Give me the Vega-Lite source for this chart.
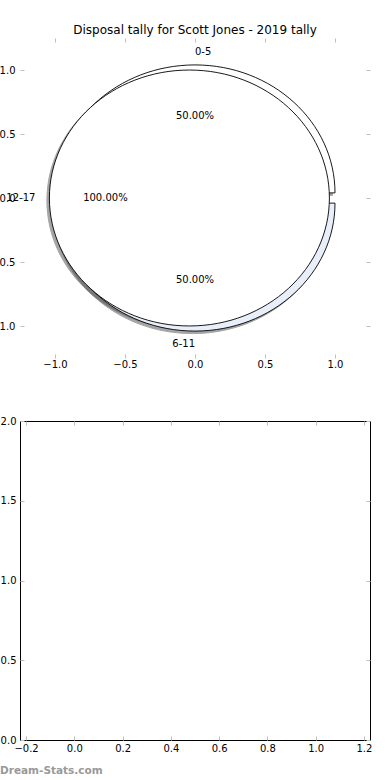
{
  "$schema": "https://vega.github.io/schema/vega-lite/v6.json",
  "padding": {"left": -10, "top": 23, "right": 0, "bottom": 0},
  "background": "white",
  "bounds": "flush",
  "spacing": 63,
  "config": {
    "view": {"stroke": null},
    "axis": {"labelFont": "DejaVu Sans", "labelFontSize": 10, "labelColor": "black", "tickColor": "#bfbfbf", "tickSize": -4, "tickWidth": 1, "domain": false, "grid": false, "labelFlush": false, "labelOverlap": false},
    "text": {"font": "DejaVu Sans", "fontSize": 10, "color": "black"}
  },
  "vconcat": [
    {
      "width": 350,
      "height": 320,
      "title": {"text": "Disposal tally for Scott Jones - 2019 tally", "font": "DejaVu Sans", "fontSize": 12, "fontWeight": "normal", "color": "black", "offset": 1, "anchor": "middle"},
      "data": {"values": [
        {"label": "0-5", "pct": "50.00%", "cx": 0, "cy": 0.04, "lx": 0, "ly": 1.14, "px": 0, "py": 0.64},
        {"label": "6-11", "pct": "50.00%", "cx": 0, "cy": -0.04, "lx": 0, "ly": -1.14, "px": 0, "py": -0.64},
        {"label": "12-17", "pct": "100.00%", "cx": -0.04, "cy": 0, "lx": -1.14, "ly": 0, "px": -0.64, "py": 0}
      ]},
      "layer": [
        {
          "mark": {"type": "point", "filled": true, "size": 78400, "fill": "#4d4d4d", "opacity": 0.5, "stroke": "#4d4d4d", "strokeWidth": 1, "xOffset": -2.5, "yOffset": 2.5},
          "encoding": {
            "x": {"field": "cx", "type": "quantitative", "scale": {"domain": [-1.25, 1.25], "nice": false, "zero": false}, "axis": {"orient": "bottom", "values": [-1, -0.5, 0, 0.5, 1], "format": ".1f", "labelPadding": 5, "title": null}},
            "y": {"field": "cy", "type": "quantitative", "scale": {"domain": [-1.25, 1.25], "nice": false, "zero": false}, "axis": {"orient": "left", "values": [-1, -0.5, 0, 0.5, 1], "format": ".1f", "labelPadding": 9, "title": null}},
            "shape": {"field": "label", "type": "nominal", "scale": {"domain": ["0-5", "6-11", "12-17"], "range": ["M0,0L1,0A1 0.914 0 0 0 -1,0Z", "M0,0L-1,0A1 0.914 0 0 0 1,0Z", "M1,0A1 0.914 0 1 0 -1,0A1 0.914 0 1 0 1,0Z"]}, "legend": null}
          }
        },
        {
          "mark": {"type": "point", "filled": true, "size": 78400, "opacity": 1, "stroke": "black", "strokeWidth": 0.9},
          "encoding": {
            "x": {"field": "cx", "type": "quantitative", "scale": {"domain": [-1.25, 1.25], "nice": false, "zero": false}, "axis": {"orient": "top", "values": [-1, -0.5, 0, 0.5, 1], "labels": false, "title": null}},
            "y": {"field": "cy", "type": "quantitative", "scale": {"domain": [-1.25, 1.25], "nice": false, "zero": false}, "axis": {"orient": "right", "values": [-1, -0.5, 0, 0.5, 1], "labels": false, "title": null}},
            "shape": {"field": "label", "type": "nominal", "scale": {"domain": ["0-5", "6-11", "12-17"], "range": ["M0,0L1,0A1 0.914 0 0 0 -1,0Z", "M0,0L-1,0A1 0.914 0 0 0 1,0Z", "M1,0A1 0.914 0 1 0 -1,0A1 0.914 0 1 0 1,0Z"]}, "legend": null},
            "fill": {"field": "label", "type": "nominal", "scale": {"domain": ["0-5", "6-11", "12-17"], "range": ["#ffffff", "#e8eefa", "#ffffff"]}, "legend": null}
          }
        },
        {
          "transform": [{"filter": "datum.label == '0-5'"}],
          "mark": {"type": "text", "align": "left", "baseline": "middle"},
          "encoding": {
            "x": {"field": "lx", "type": "quantitative", "scale": {"domain": [-1.25, 1.25], "nice": false, "zero": false}, "axis": null},
            "y": {"field": "ly", "type": "quantitative", "scale": {"domain": [-1.25, 1.25], "nice": false, "zero": false}, "axis": null},
            "text": {"field": "label"}
          }
        },
        {
          "transform": [{"filter": "datum.label != '0-5'"}],
          "mark": {"type": "text", "align": "right", "baseline": "middle"},
          "encoding": {
            "x": {"field": "lx", "type": "quantitative", "scale": {"domain": [-1.25, 1.25], "nice": false, "zero": false}, "axis": null},
            "y": {"field": "ly", "type": "quantitative", "scale": {"domain": [-1.25, 1.25], "nice": false, "zero": false}, "axis": null},
            "text": {"field": "label"}
          }
        },
        {
          "mark": {"type": "text", "align": "center", "baseline": "middle"},
          "encoding": {
            "x": {"field": "px", "type": "quantitative", "scale": {"domain": [-1.25, 1.25], "nice": false, "zero": false}, "axis": null},
            "y": {"field": "py", "type": "quantitative", "scale": {"domain": [-1.25, 1.25], "nice": false, "zero": false}, "axis": null},
            "text": {"field": "pct"}
          }
        }
      ],
      "resolve": {"axis": {"x": "independent", "y": "independent"}}
    },
    {
      "width": 350,
      "height": 319,
      "view": {"stroke": "black", "strokeWidth": 1},
      "title": {"text": "Dream-Stats.com", "orient": "bottom", "anchor": "start", "frame": "group", "dx": -20, "offset": 13, "font": "DejaVu Sans", "fontSize": 10.5, "fontWeight": "bold", "color": "#999999"},
      "data": {"values": []},
      "layer": [
        {
          "mark": {"type": "point"},
          "encoding": {
            "x": {"field": "x", "type": "quantitative", "scale": {"domain": [-0.225, 1.225], "nice": false, "zero": false}, "axis": {"orient": "bottom", "values": [-0.2, 0, 0.2, 0.4, 0.6, 0.8, 1.0, 1.2], "format": ".1f", "labelPadding": 7, "title": null}},
            "y": {"field": "y", "type": "quantitative", "scale": {"domain": [0, 2], "nice": false, "zero": false}, "axis": {"orient": "left", "values": [0, 0.5, 1, 1.5, 2], "format": ".1f", "labelPadding": 8, "title": null}}
          }
        },
        {
          "mark": {"type": "point"},
          "encoding": {
            "x": {"field": "x", "type": "quantitative", "scale": {"domain": [-0.225, 1.225], "nice": false, "zero": false}, "axis": {"orient": "top", "values": [-0.2, 0, 0.2, 0.4, 0.6, 0.8, 1.0, 1.2], "labels": false, "title": null}},
            "y": {"field": "y", "type": "quantitative", "scale": {"domain": [0, 2], "nice": false, "zero": false}, "axis": {"orient": "right", "values": [0, 0.5, 1, 1.5, 2], "labels": false, "title": null}}
          }
        }
      ],
      "resolve": {"axis": {"x": "independent", "y": "independent"}}
    }
  ]
}
